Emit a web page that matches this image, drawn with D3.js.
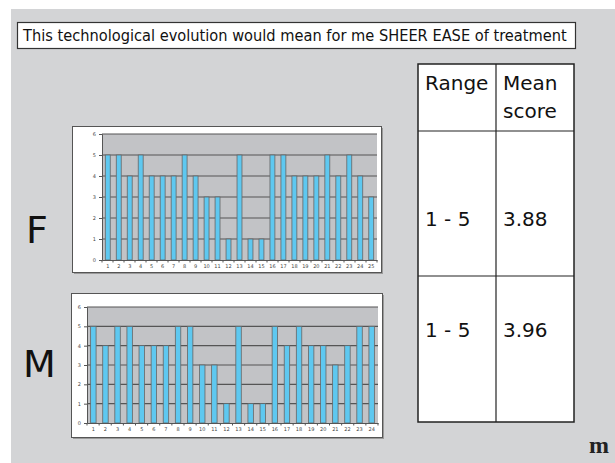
<!DOCTYPE html>
<html><head><meta charset="utf-8">
<script src="https://cdn.jsdelivr.net/npm/d3@7"></script>
<style>html,body{margin:0;padding:0;background:#fff;}svg{display:block;}</style>
</head><body>
<script>
const titleText = "This technological evolution would mean for me SHEER EASE of treatment";
const femaleRespondents = d3.range(1, 26);
const femaleScores = [5,5,4,5,4,4,4,5,4,3,3,1,5,1,1,5,5,4,4,4,5,4,5,4,3];
const maleRespondents = d3.range(1, 25);
const maleScores = [5,4,5,5,4,4,4,5,5,3,3,1,5,1,1,5,4,5,4,4,3,4,5,5];
const yTicks = [0,1,2,3,4,5,6];
const tableHeader = [["Range"], ["Mean", "score"]];
const tableRows = [["1 - 5", "3.88"], ["1 - 5", "3.96"]];
const groupLabels = ["F", "M"];

const W = 615, H = 463;
const svg = d3.select("body").append("svg").attr("width", W).attr("height", H);
const font = "'DejaVu Sans', sans-serif";

svg.append("rect").attr("x", 11).attr("y", 9).attr("width", W - 11).attr("height", H - 9).attr("fill", "#d3d4d6");

// title box
svg.append("rect").attr("x", 17.5).attr("y", 22.5).attr("width", 558).attr("height", 26)
  .attr("fill", "#fff").attr("stroke", "#333").attr("stroke-width", 1.2);
const title = svg.append("text").attr("x", 23).attr("y", 41).attr("font-family", "'DejaVu Sans Condensed', 'DejaVu Sans', sans-serif")
  .attr("font-size", 16).attr("fill", "#111").text(titleText);
const natural = title.node().getComputedTextLength();
title.attr("font-size", Math.min(17, 16 * 544 / natural));

// group labels
svg.append("text").attr("x", 26).attr("y", 243).attr("font-family", font).attr("font-size", 38).attr("fill", "#111").text(groupLabels[0]);
svg.append("text").attr("x", 23).attr("y", 377).attr("font-family", font).attr("font-size", 38).attr("fill", "#111").text(groupLabels[1]);

function chart(cfg, cats, vals) {
  const g = svg.append("g");
  g.append("rect").attr("x", cfg.bx + 1.5).attr("y", cfg.by + 1.5).attr("width", cfg.bw).attr("height", cfg.bh)
    .attr("fill", "#9a9a9a");
  g.append("rect").attr("x", cfg.bx).attr("y", cfg.by).attr("width", cfg.bw).attr("height", cfg.bh)
    .attr("fill", "#fff").attr("stroke", "#555").attr("stroke-width", 1);
  const x = d3.scaleBand().domain(cats).range([cfg.l, cfg.r]).paddingInner(0.55).paddingOuter(0.3);
  const y = d3.scaleLinear().domain([0, 6]).range([cfg.b, cfg.t]);
  g.append("rect").attr("x", cfg.l).attr("y", cfg.t).attr("width", cfg.r - cfg.l).attr("height", cfg.b - cfg.t)
    .attr("fill", "#c2c3c6");
  g.selectAll("line.grid").data(yTicks.slice(1)).join("line").attr("class", "grid")
    .attr("x1", cfg.l).attr("x2", cfg.r).attr("y1", d => y(d)).attr("y2", d => y(d))
    .attr("stroke", "#555").attr("stroke-width", 1.1);
  g.selectAll("rect.bar").data(vals).join("rect").attr("class", "bar")
    .attr("x", (d, i) => x(cats[i])).attr("width", x.bandwidth())
    .attr("y", d => y(d)).attr("height", d => y(0) - y(d))
    .attr("fill", "#5ec8f0").attr("stroke", "#666").attr("stroke-width", 0.8);
  const ya = g.append("g").attr("transform", `translate(${cfg.l},0)`)
    .call(d3.axisLeft(y).tickValues(yTicks).tickSize(3).tickPadding(3).tickFormat(d3.format("d")));
  ya.select(".domain").attr("stroke", "#555");
  ya.selectAll("line").attr("stroke", "#555");
  ya.selectAll("text").attr("font-size", 5).attr("fill", "#444").attr("font-family", font);
  const xa = g.append("g").attr("transform", `translate(0,${cfg.b})`)
    .call(d3.axisBottom(x).tickSize(0).tickPadding(4));
  xa.select(".domain").attr("stroke", "#555");
  xa.selectAll("text").attr("font-size", 5).attr("fill", "#444").attr("font-family", font);
  g.selectAll("line.xt").data(d3.range(cats.length + 1)).join("line").attr("class", "xt")
    .attr("x1", i => cfg.l + (cfg.r - cfg.l) * i / cats.length).attr("x2", i => cfg.l + (cfg.r - cfg.l) * i / cats.length)
    .attr("y1", cfg.b).attr("y2", cfg.b + 2.5).attr("stroke", "#555");
}

chart({bx: 72.5, by: 126.5, bw: 309, bh: 146, l: 102, r: 377, t: 134, b: 260}, femaleRespondents, femaleScores);
chart({bx: 71.5, by: 293.5, bw: 311, bh: 144, l: 87, r: 378, t: 307, b: 423}, maleRespondents, maleScores);

// table
const tx = [418, 496, 574], ty = [64, 131, 276, 422];
const tg = svg.append("g");
tg.append("rect").attr("x", tx[0]).attr("y", ty[0]).attr("width", tx[2] - tx[0]).attr("height", ty[3] - ty[0])
  .attr("fill", "#fff").attr("stroke", "#222").attr("stroke-width", 1.5);
tg.append("line").attr("x1", tx[1]).attr("x2", tx[1]).attr("y1", ty[0]).attr("y2", ty[3]).attr("stroke", "#222").attr("stroke-width", 1.2);
[ty[1], ty[2]].forEach(yy => tg.append("line").attr("x1", tx[0]).attr("x2", tx[2]).attr("y1", yy).attr("y2", yy).attr("stroke", "#222").attr("stroke-width", 1.2));
tableHeader.forEach((lines, c) => lines.forEach((s, k) => {
  tg.append("text").attr("x", tx[c] + 7).attr("y", 90 + k * 28).attr("font-family", font).attr("font-size", 20).attr("fill", "#111").text(s);
}));
const rowBase = [226, 337];
tableRows.forEach((row, r) => row.forEach((s, c) => {
  tg.append("text").attr("x", tx[c] + 7).attr("y", rowBase[r]).attr("font-family", font).attr("font-size", 20).attr("fill", "#111").text(s);
}));

svg.append("text").attr("x", 589).attr("y", 453).attr("font-family", "'Liberation Serif', serif").attr("font-weight", "bold")
  .attr("font-size", 24).attr("fill", "#222").text("m");
</script>
</body></html>
